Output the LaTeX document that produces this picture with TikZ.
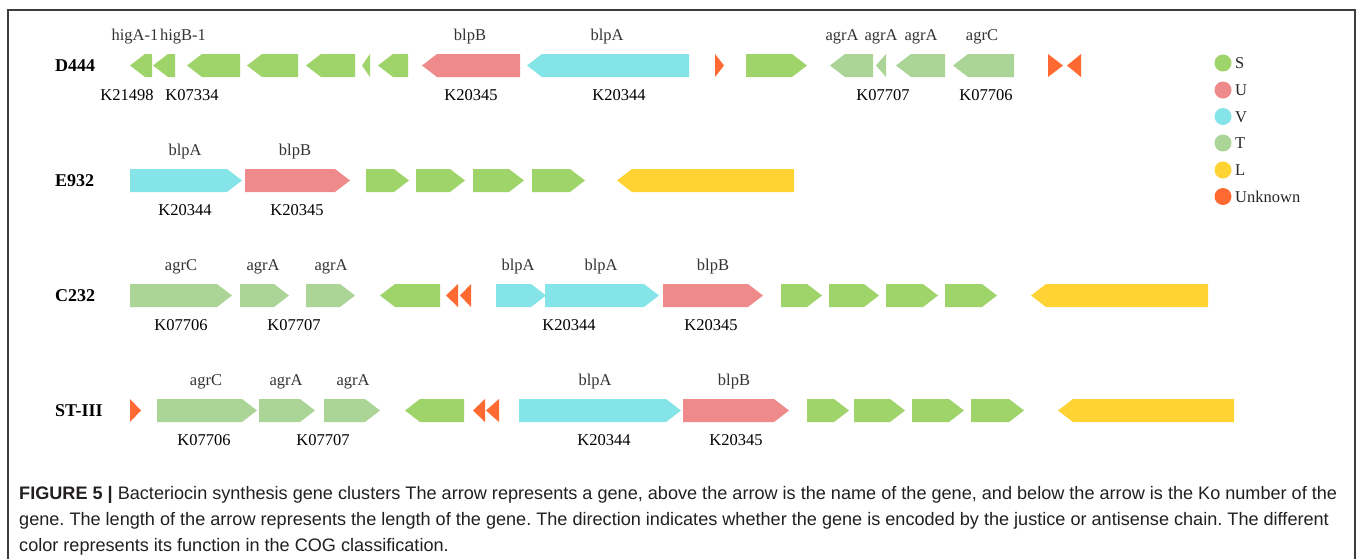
\documentclass[tikz,border=0pt]{standalone}
\usepackage{fontspec}
\setmainfont{Liberation Serif}
\newfontfamily\capfont{Liberation Sans}
\frenchspacing

% COG function colours
\definecolor{cogS}{HTML}{9FD46B}
\definecolor{cogU}{HTML}{EF8A8A}
\definecolor{cogV}{HTML}{84E4E8}
\definecolor{cogT}{HTML}{AAD596}
\definecolor{cogL}{HTML}{FFD334}
\definecolor{cogX}{HTML}{FF6A33}
\definecolor{frameC}{HTML}{3C3C3C}
\definecolor{capC}{HTML}{231F20}

\tikzset{
  gname/.style={anchor=base, inner sep=0pt, text=black!80,
                font=\fontsize{16.5}{18}\selectfont},
  gko/.style={anchor=base, inner sep=0pt, text=black,
              font=\fontsize{16.5}{18}\selectfont},
  rowlab/.style={anchor=base west, inner sep=0pt, text=black,
                 font=\fontsize{18}{20}\selectfont\bfseries},
  legtext/.style={anchor=base west, inner sep=0pt, text=black!85,
                  font=\fontsize{16.5}{18}\selectfont},
  legdot/.style={circle, inner sep=0pt, minimum size=17pt},
  capline/.style={anchor=base west, inner sep=0pt, text=capC,
                  font=\capfont\fontsize{18.1}{22}\selectfont},
}

% gene arrows: {start}{end}{row centre}{colour}
\newcommand\fwdgene[4]{%
  \pgfmathsetmacro\ghead{min(15,#2-#1)}%
  \fill[#4] (#1,#3-11.5) -- (#2-\ghead,#3-11.5) -- (#2,#3)
            -- (#2-\ghead,#3+11.5) -- (#1,#3+11.5) -- cycle;}
\newcommand\revgene[4]{%
  \pgfmathsetmacro\ghead{min(15,#2-#1)}%
  \fill[#4] (#2,#3-11.5) -- (#1+\ghead,#3-11.5) -- (#1,#3)
            -- (#1+\ghead,#3+11.5) -- (#2,#3+11.5) -- cycle;}

\begin{document}
\begin{tikzpicture}[x=1pt,y=-1pt]
\useasboundingbox (0,0) rectangle (1357,558);
\fill[white] (0,0) rectangle (1357,558);

% frame
\draw[frameC, line width=1.2pt] (8,570) -- (8,10) -- (1355,10) -- (1355,570);

% ---------------- D444 ----------------
\def\ya{65.5}
\node[rowlab] (labD) at (55,\ya+6) {D444};
\revgene{130}{152}{\ya}{cogS}
\revgene{153}{175}{\ya}{cogS}
\revgene{187}{240}{\ya}{cogS}
\revgene{247}{298}{\ya}{cogS}
\revgene{306}{355}{\ya}{cogS}
\revgene{362}{370}{\ya}{cogS}
\revgene{378}{408}{\ya}{cogS}
\revgene{422}{520}{\ya}{cogU}
\revgene{527}{689}{\ya}{cogV}
\fwdgene{715}{724}{\ya}{cogX}
\fwdgene{746}{807}{\ya}{cogS}
\revgene{830}{873}{\ya}{cogT}
\revgene{876}{886}{\ya}{cogT}
\revgene{896}{945}{\ya}{cogT}
\revgene{953}{1014}{\ya}{cogT}
\fwdgene{1048}{1063}{\ya}{cogX}
\revgene{1067}{1081}{\ya}{cogX}
\node[gname] (d1) at (135,\ya-25.5) {higA-1};
\node[gname] (d2) at (183,\ya-25.5) {higB-1};
\node[gname] (d3) at (470,\ya-25.5) {blpB};
\node[gname] (d4) at (607,\ya-25.5) {blpA};
\node[gname] (d5) at (842,\ya-25.5) {agrA};
\node[gname] (d6) at (881,\ya-25.5) {agrA};
\node[gname] (d7) at (921,\ya-25.5) {agrA};
\node[gname] (d8) at (982,\ya-25.5) {agrC};
\node[gko] (dk1) at (127,\ya+34.5) {K21498};
\node[gko] (dk2) at (192,\ya+34.5) {K07334};
\node[gko] (dk3) at (471,\ya+34.5) {K20345};
\node[gko] (dk4) at (619,\ya+34.5) {K20344};
\node[gko] (dk5) at (883,\ya+34.5) {K07707};
\node[gko] (dk6) at (986,\ya+34.5) {K07706};

% ---------------- E932 ----------------
\def\yb{180.5}
\node[rowlab] (labE) at (55,\yb+6) {E932};
\fwdgene{130}{242}{\yb}{cogV}
\fwdgene{245}{350}{\yb}{cogU}
\fwdgene{366}{409}{\yb}{cogS}
\fwdgene{416}{465}{\yb}{cogS}
\fwdgene{473}{524}{\yb}{cogS}
\fwdgene{532}{585}{\yb}{cogS}
\revgene{617}{794}{\yb}{cogL}
\node[gname] (e1) at (185,\yb-25.5) {blpA};
\node[gname] (e2) at (295,\yb-25.5) {blpB};
\node[gko] (ek1) at (185,\yb+34.5) {K20344};
\node[gko] (ek2) at (297,\yb+34.5) {K20345};

% ---------------- C232 ----------------
\def\yc{295.5}
\node[rowlab] (labC) at (55,\yc+6) {C232};
\fwdgene{130}{232}{\yc}{cogT}
\fwdgene{240}{289}{\yc}{cogT}
\fwdgene{306}{355}{\yc}{cogT}
\revgene{380}{440}{\yc}{cogS}
\revgene{446}{458}{\yc}{cogX}
\revgene{460}{471}{\yc}{cogX}
\fwdgene{496}{546}{\yc}{cogV}
\fwdgene{545}{659}{\yc}{cogV}
\fwdgene{663}{763}{\yc}{cogU}
\fwdgene{781}{822}{\yc}{cogS}
\fwdgene{829}{879}{\yc}{cogS}
\fwdgene{886}{938}{\yc}{cogS}
\fwdgene{945}{997}{\yc}{cogS}
\revgene{1031}{1208}{\yc}{cogL}
\node[gname] (c1) at (181,\yc-25.5) {agrC};
\node[gname] (c2) at (263,\yc-25.5) {agrA};
\node[gname] (c3) at (331,\yc-25.5) {agrA};
\node[gname] (c4) at (518,\yc-25.5) {blpA};
\node[gname] (c5) at (601,\yc-25.5) {blpA};
\node[gname] (c6) at (713,\yc-25.5) {blpB};
\node[gko] (ck1) at (181,\yc+34.5) {K07706};
\node[gko] (ck2) at (294,\yc+34.5) {K07707};
\node[gko] (ck3) at (569,\yc+34.5) {K20344};
\node[gko] (ck4) at (711,\yc+34.5) {K20345};

% ---------------- ST-III ----------------
\def\yd{410.5}
\node[rowlab] (labS) at (55,\yd+6) {ST-III};
\fwdgene{130}{141}{\yd}{cogX}
\fwdgene{157}{257}{\yd}{cogT}
\fwdgene{259}{315}{\yd}{cogT}
\fwdgene{324}{380}{\yd}{cogT}
\revgene{405}{464}{\yd}{cogS}
\revgene{473}{485}{\yd}{cogX}
\revgene{486}{499}{\yd}{cogX}
\fwdgene{519}{681}{\yd}{cogV}
\fwdgene{683}{789}{\yd}{cogU}
\fwdgene{807}{849}{\yd}{cogS}
\fwdgene{854}{905}{\yd}{cogS}
\fwdgene{912}{964}{\yd}{cogS}
\fwdgene{971}{1024}{\yd}{cogS}
\revgene{1058}{1234}{\yd}{cogL}
\node[gname] (s1) at (206,\yd-25.5) {agrC};
\node[gname] (s2) at (286,\yd-25.5) {agrA};
\node[gname] (s3) at (353,\yd-25.5) {agrA};
\node[gname] (s4) at (595,\yd-25.5) {blpA};
\node[gname] (s5) at (734,\yd-25.5) {blpB};
\node[gko] (sk1) at (204,\yd+34.5) {K07706};
\node[gko] (sk2) at (323,\yd+34.5) {K07707};
\node[gko] (sk3) at (604,\yd+34.5) {K20344};
\node[gko] (sk4) at (736,\yd+34.5) {K20345};

% ---------------- legend ----------------
\foreach \c/\t/\yy [count=\i] in {cogS/S/63, cogU/U/90, cogV/V/116.5,
                                  cogT/T/143, cogL/L/170, cogX/Unknown/196.5}{
  \node[legdot, fill=\c] (ld\i) at (1223,\yy) {};
  \node[legtext] (lt\i) at (1235,\yy+5.5) {\t};
}

% ---------------- caption ----------------
\node[capline] (cap1) at (19,499) {\textbf{FIGURE 5 |} Bacteriocin synthesis gene clusters The arrow represents a gene, above the arrow is the name of the gene, and below the arrow is the Ko number of the};
\node[capline] (cap2) at (19,525.5) {gene. The length of the arrow represents the length of the gene. The direction indicates whether the gene is encoded by the justice or antisense chain. The different};
\node[capline] (cap3) at (19,551.5) {color represents its function in the COG classification.};
\end{tikzpicture}
\end{document}
